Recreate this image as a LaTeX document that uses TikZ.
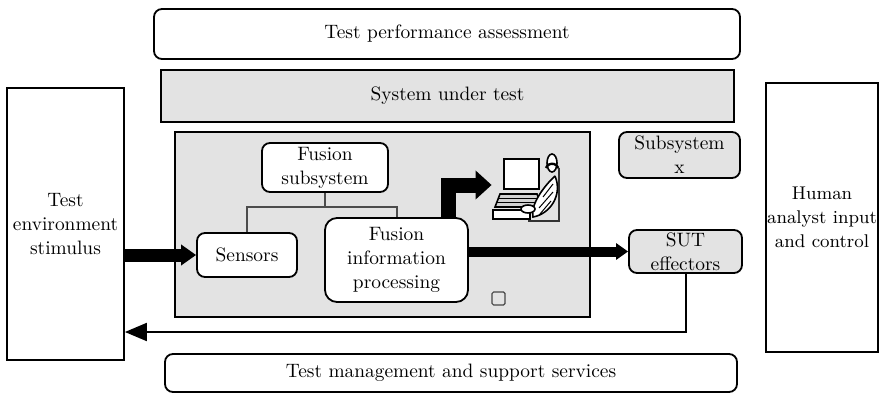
\documentclass[tikz,border=0pt]{standalone}
\usetikzlibrary{arrows.meta}
\tikzset{
  every node/.style={font=\fontsize{9.7}{12}\selectfont},
  blk/.style={draw, line width=0.9pt, rounded corners=4pt, align=center, inner sep=1pt},
  gblk/.style={blk, fill=gray!22},
  sqblk/.style={draw, line width=0.9pt, align=center, inner sep=0.5pt},
  tie/.style={draw=gray!60!black, line width=1pt},
  fat/.style={line width=6.5pt, -{Triangle[length=7.5pt,width=10pt]}},
}
\begin{document}
\begin{tikzpicture}[x=0.5pt,y=-0.5pt]
  \useasboundingbox (0,0) rectangle (881,395);
  % bands across the top and bottom
  \node[blk, minimum width=293pt, minimum height=25pt] (perf) at (447,34) {Test performance assessment};
  \node[sqblk, fill=gray!22, minimum width=286.5pt, minimum height=26pt] (sut) at (447.5,96) {System under test};
  \node[blk, minimum width=286pt, minimum height=19pt] (mgmt) at (451,373) {Test management and support services};
  % outer columns
  \node[sqblk, minimum width=58.5pt, minimum height=136pt] (stim) at (65.5,224) {Test\\environment\\stimulus};
  \node[sqblk, font=\fontsize{9.2}{12}\selectfont, minimum width=56pt, minimum height=134.5pt] (human) at (822,217.5) {Human\\analyst input\\and control};
  % fusion part of the system
  \node[draw, line width=0.9pt, fill=gray!22, minimum width=207.5pt, minimum height=92.5pt] (frame) at (382.5,224.5) {};
  \node[blk, fill=white, minimum width=63pt, minimum height=24.5pt] (fussub) at (325,167.5) {Fusion\\subsystem};
  \node[blk, fill=white, minimum width=50pt, minimum height=22pt] (sensors) at (247,255) {Sensors};
  \node[blk, fill=white, rounded corners=6pt, minimum width=71.5pt, minimum height=42pt] (fusinfo) at (396.5,260) {Fusion\\information\\processing};
  \node[draw=gray!55!black, line width=0.6pt, rounded corners=0.8pt, minimum size=6.5pt, inner sep=0pt] (tag) at (498.5,298.5) {};
  \node[minimum width=34pt, minimum height=35pt, inner sep=0pt] (pc) at (526,185) {};
  % other subsystems
  \node[gblk, minimum width=60.5pt, minimum height=23pt] (subx) at (679.5,155) {Subsystem\\x};
  \node[gblk, minimum width=56.5pt, minimum height=21.5pt] (effect) at (685.5,251.5) {SUT\\effectors};

  % operator at the workstation
  \draw[line width=1.3pt, fill=white] (504,159) rectangle (539,189);
  \draw[line width=0.8pt, fill=gray!35] (500,194) -- (537,194) -- (542,207) -- (495,207) -- cycle;
  \draw[line width=0.5pt] (499,198) -- (538,198) (497,202) -- (540,202);
  \draw[line width=0.8pt, fill=white] (493,210) rectangle (530,219);
  \draw[line width=0.9pt, gray!40!black] (559,168) -- (559,221) -- (528,221);
  \draw[line width=0.8pt, fill=white] (552,163) ellipse (5 and 9);
  \draw[line width=1.2pt] (546,168) arc (200:340:6.5);
  \draw[line width=0.8pt, fill=white] (555,176) .. controls (563,195) and (550,214) .. (533,217)
    .. controls (530,205) and (544,186) .. (555,176);
  \draw[line width=0.5pt] (553,184) -- (543,197) (553,192) -- (539,208) (551,201) -- (540,214);
  \draw[line width=0.8pt, fill=white] (528,209) ellipse (7 and 4);

  % links inside the fusion subsystem
  \draw[tie] (fussub.south) -- ++(0,14) coordinate (fork);
  \draw[tie] (fork) -| (sensors.north);
  \draw[tie] (fork) -| (fusinfo.north);

  % flows
  \draw[fat] (stim.east |- sensors.west) -- (sensors.west);
  \draw[line width=5pt, -{Triangle[length=6pt,width=8pt]}] (fusinfo.east |- effect.west) -- (effect.west);
  \draw[line width=7.5pt, line join=miter, -{Triangle[length=8pt,width=14pt]}]
    ([xshift=26pt]fusinfo.north) |- (pc.west);
  \draw[line width=1pt, -{Triangle[length=11pt,width=9pt]}] (effect.south) |- ([yshift=-54pt]stim.east);
\end{tikzpicture}
\end{document}
